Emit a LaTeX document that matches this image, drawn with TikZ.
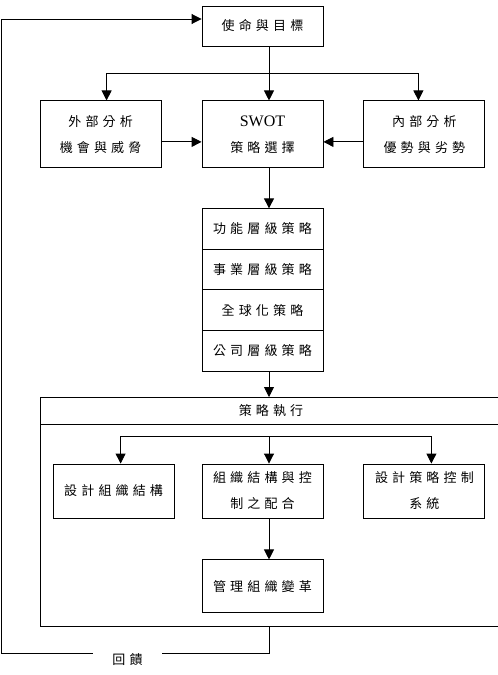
\documentclass[tikz,border=0pt]{standalone}
\usepackage{fontspec}
\setmainfont{Liberation Serif}
\newfontfamily\cjk[LetterSpace=32]{Noto Sans CJK TC}
\usetikzlibrary{arrows.meta, positioning, calc}
\tikzset{
        block/.style={rectangle, draw, line width=0.9pt, minimum width=121pt, minimum height=67pt, align=center, inner sep=2pt, font=\cjk\fontsize{13}{26}\selectfont},
        layer/.style={block, minimum height=40.75pt, outer sep=0pt},
        frame/.style={rectangle, draw, line width=0.9pt, anchor=north west, minimum width=462pt, outer sep=0pt},
        arrow/.style={-{Triangle[length=10pt, width=10pt]}, line width=0.9pt},
        line/.style={line width=0.9pt},
    }

\begin{document}
\begin{tikzpicture}[x=1pt, y=1pt, node distance=40pt and 40pt]
        \clip (0,0) rectangle (498,-675);

        % === MISSION AND ANALYSIS ===
        \node[block, minimum height=40pt] (mission) at (262.5,-26) {使命與目標};
        \node[block, below=54pt of mission] (swot) {{\rmfamily\fontsize{16}{20}\selectfont SWOT}\\策略選擇};
        \node[block, left=40pt of swot] (ext) {外部分析\\機會與威脅};
        \node[block, right=40pt of swot] (int) {內部分析\\優勢與劣勢};

        \coordinate (split) at ($(mission.south)+(6.5,-27)$);
        \draw[arrow] ([xshift=6.5pt]mission.south) -- ([xshift=6.5pt]swot.north);
        \draw[arrow] (split) -| ([xshift=6pt]ext.north);
        \draw[arrow] (split) -| ([xshift=-6pt]int.north);
        \draw[arrow] ([yshift=-7.5pt]ext.east) -- ([yshift=-7.5pt]swot.west);
        \draw[arrow] ([yshift=-7.5pt]int.west) -- ([yshift=-7.5pt]swot.east);

        % === STRATEGY LEVELS ===
        \node[layer, below=40pt of swot] (func) {功能層級策略};
        \node[layer, below=0pt of func] (biz) {事業層級策略};
        \node[layer, below=0pt of biz] (glob) {全球化策略};
        \node[layer, below=0pt of glob] (corp) {公司層級策略};
        \draw[arrow] ([xshift=6.5pt]swot.south) -- ([xshift=6.5pt]func.north);

        % === IMPLEMENTATION ===
        \node[frame, minimum height=229pt] (exec) at (40,-397) {};
        \node[frame, minimum height=27pt, font=\cjk\fontsize{13}{26}\selectfont] (execttl) at (exec.north west) {策略執行};
        \draw[arrow] ([xshift=6.5pt]corp.south) -- ([xshift=6.5pt]corp.south |- exec.north);

        \node[block, minimum height=54pt] (match) at (262.5,-491) {組織結構與控\\制之配合};
        \node[block, minimum height=54pt, left=27pt of match] (design) {設計組織結構};
        \node[block, minimum height=54pt, right=40pt of match] (ctrl) {設計策略控制\\系統};
        \node[block, minimum height=53pt, below=41pt of match] (change) {管理組織變革};

        \coordinate (split2) at ($(match.north)+(6.5,27)$);
        \draw[arrow] (split2) -| ([xshift=7pt]design.north);
        \draw[arrow] (split2) -| ([xshift=7pt]ctrl.north);
        \draw[arrow] (split2) -- ([xshift=6.5pt]match.north);
        \draw[arrow] ([xshift=6.5pt]match.south) -- ([xshift=6.5pt]change.north);

        % === FEEDBACK ===
        \node[anchor=north, minimum width=69pt, inner sep=0pt, font=\cjk\fontsize{13}{26}\selectfont] (fb) at (127.5,-653) {回饋};
        \coordinate (fbcorner) at (1,-653);
        \draw[line] ([xshift=6.5pt]corp.south |- exec.south) |- (fb.north east);
        \draw[arrow] (fb.north west) -- (fbcorner) |- ([yshift=7pt]mission.west);

    \end{tikzpicture}
\end{document}
